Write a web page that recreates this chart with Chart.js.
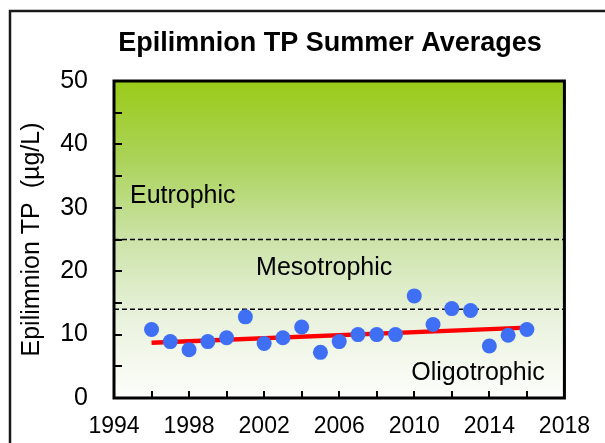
<!DOCTYPE html>
<html>
<head>
<meta charset="utf-8">
<script src="https://cdn.jsdelivr.net/npm/chart.js@4.4.1/dist/chart.umd.min.js"></script>
<style>
  html, body { margin: 0; padding: 0; background: #fff; }
  canvas { display: block; }
</style>
</head>
<body>
<canvas id="chart" width="605" height="443"></canvas>
<script>
const years = [1996, 1997, 1998, 1999, 2000, 2001, 2002, 2003, 2004, 2005, 2006,
  2007, 2008, 2009, 2010, 2011, 2012, 2013, 2014, 2015, 2016]
const tpValues = [10.8, 8.9, 7.6, 8.9, 9.5, 12.8, 8.6, 9.5, 11.2, 7.2, 8.9,
  10.0, 10.0, 10.0, 16.1, 11.6, 14.1, 13.8, 8.2, 9.9, 10.8]
const trendYears = [1996, 2016]
const trendValues = [8.7, 11.1]
const thresholds = [14, 25]
const xTickLabels = [1994, 1998, 2002, 2006, 2010, 2014, 2018]
const yTickLabels = [0, 10, 20, 30, 40, 50]
const xMinorTicks = [1996, 1998, 2000, 2002, 2004, 2006, 2008, 2010, 2012, 2014, 2016]
const yMinorTicks = [5, 10, 15, 20, 25, 30, 35, 40, 45]
const zoneNames = ['Eutrophic', 'Mesotrophic', 'Oligotrophic']

const FONT = "'Liberation Sans', Arial, sans-serif"

const lineAt = v => [{ x: 1994, y: v }, { x: 2018, y: v }]

const decor = {
  id: 'decor',
  beforeDatasetsDraw(chart) {
    const { ctx, chartArea: a } = chart
    const g = ctx.createLinearGradient(0, a.top, 0, a.bottom)
    g.addColorStop(0, '#9acb18')
    g.addColorStop(0.25, '#abd35a')
    g.addColorStop(0.5, '#cce3a8')
    g.addColorStop(0.75, '#e9f2dd')
    g.addColorStop(1, '#fdfefb')
    ctx.save()
    ctx.fillStyle = g
    ctx.fillRect(a.left, a.top, a.width, a.height)
    ctx.restore()
  },
  afterDatasetsDraw(chart) {
    const { ctx, chartArea: a, scales: { x, y } } = chart
    ctx.save()
    // zone names
    ctx.fillStyle = '#000'
    ctx.font = '25px ' + FONT
    ctx.textBaseline = 'middle'
    ctx.textAlign = 'left'
    ctx.fillText(zoneNames[0], x.getPixelForValue(1994.85), y.getPixelForValue(31.9))
    ctx.textAlign = 'center'
    ctx.fillText(zoneNames[1], x.getPixelForValue(2005.2), y.getPixelForValue(20.5))
    ctx.textAlign = 'right'
    ctx.fillText(zoneNames[2], x.getPixelForValue(2016.95), y.getPixelForValue(3.9))

    // inward tick marks
    ctx.strokeStyle = '#000'
    ctx.lineWidth = 2
    ctx.beginPath()
    yMinorTicks.forEach(v => {
      const py = Math.round(y.getPixelForValue(v))
      ctx.moveTo(a.left, py)
      ctx.lineTo(a.left + 8, py)
    })
    xMinorTicks.forEach(v => {
      const px = Math.round(x.getPixelForValue(v))
      ctx.moveTo(px, a.bottom)
      ctx.lineTo(px, a.bottom - 7)
    })
    ctx.stroke()

    // plot frame
    ctx.lineWidth = 3
    ctx.strokeRect(a.left, a.top, a.width, a.height)
    ctx.restore()
  },
  afterDraw(chart) {
    const { ctx } = chart
    ctx.save()
    // outer chart frame
    ctx.strokeStyle = '#1a1a1a'
    ctx.lineWidth = 2.5
    ctx.beginPath()
    ctx.moveTo(10, 443)
    ctx.lineTo(10, 11)
    ctx.lineTo(605, 11)
    ctx.stroke()
    // title
    ctx.fillStyle = '#000'
    ctx.font = 'bold 27px ' + FONT
    ctx.textAlign = 'center'
    ctx.textBaseline = 'middle'
    ctx.fillText('Epilimnion TP Summer Averages', 330, 44)
    ctx.restore()
  }
}

new Chart(document.getElementById('chart'), {
  type: 'scatter',
  data: {
    datasets: [
      {
        label: 'TP',
        data: years.map((yr, i) => ({ x: yr, y: tpValues[i] })),
        backgroundColor: '#3f6ff5',
        borderWidth: 0,
        pointRadius: 7.5,
        order: 0,
      },
      {
        label: 'Trend',
        data: trendYears.map((yr, i) => ({ x: yr, y: trendValues[i] })),
        showLine: true,
        borderColor: '#ff0000',
        borderWidth: 4.5,
        pointRadius: 0,
        order: 1,
      },
      ...thresholds.map(t => ({
        label: 'Threshold ' + t,
        data: lineAt(t),
        showLine: true,
        borderColor: '#000',
        borderWidth: 1.7,
        borderDash: [5, 3],
        pointRadius: 0,
        order: 2,
      })),
    ],
  },
  options: {
    responsive: false,
    devicePixelRatio: 1,
    animation: false,
    events: [],
    layout: { padding: { top: 81, right: 36, bottom: 0, left: 0 } },
    scales: {
      x: {
        type: 'linear',
        min: 1994,
        max: 2018,
        afterBuildTicks: s => { s.ticks = xTickLabels.map(v => ({ value: v })) },
        afterFit: s => { s.height = 45 },
        grid: { display: false, drawTicks: false },
        border: { display: false },
        ticks: {
          padding: 15,
          color: '#000',
          maxRotation: 0,
          font: { family: FONT, size: 23 },
          callback: v => String(v),
        },
      },
      y: {
        min: 0,
        max: 50,
        afterBuildTicks: s => { s.ticks = yTickLabels.map(v => ({ value: v })) },
        afterFit: s => { s.width = 114 },
        grid: { display: false, drawTicks: false },
        border: { display: false },
        ticks: {
          padding: 26,
          color: '#000',
          font: { family: FONT, size: 25 },
          callback: v => String(v),
        },
        title: {
          display: true,
          text: 'Epilimnion TP  (µg/L)',
          color: '#000',
          padding: { top: 17, bottom: 0 },
          font: { family: FONT, size: 25 },
        },
      },
    },
    plugins: {
      legend: { display: false },
      tooltip: { enabled: false },
      title: { display: false },
    },
  },
  plugins: [decor],
})
</script>
</body>
</html>
